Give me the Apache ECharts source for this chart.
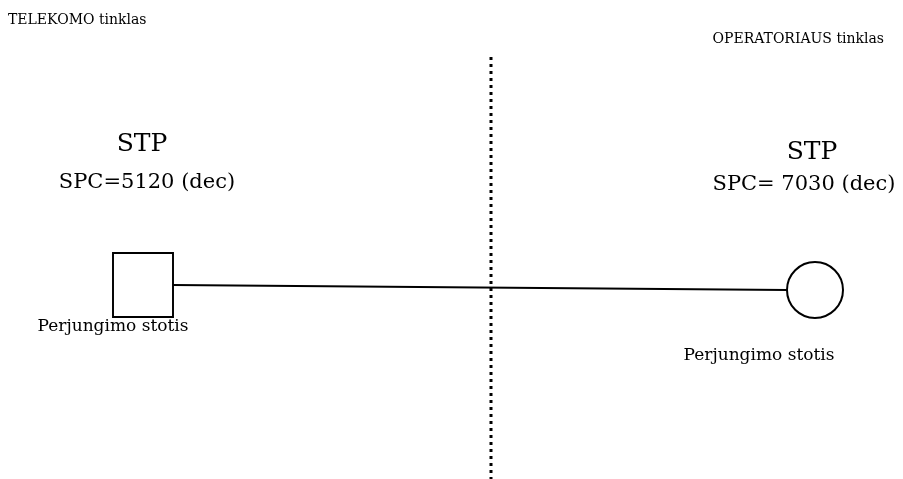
<!DOCTYPE html>
<html>
<head>
<meta charset="utf-8">
<script src="https://cdn.jsdelivr.net/npm/echarts@6/dist/echarts.min.js"></script>
<style>
  html, body { margin: 0; padding: 0; background: #fff; }
  #chart { width: 903px; height: 479px; }
</style>
</head>
<body>
<div id="chart"></div>
<script>
// tinklų pavadinimai ir mazgų tekstai
const networkNames = ['TELEKOMO tinklas', 'OPERATORIAUS tinklas'];
const stpNames = ['STP', 'STP'];
const spcNames = ['SPC=5120 (dec)', 'SPC= 7030 (dec)'];
const stationNames = ['Perjungimo stotis', 'Perjungimo stotis'];

// schemos koordinatės (ašies vienetais, 0..903 x 0..479)
const networkX = [8, 884];
const networkY = [20, 39];
const stpX = [142, 812];
const stpY = [144, 152];
const spcX = [147, 804];
const spcY = [183, 185];
const stationX = [113, 759];
const stationY = [327, 356];
const nodeX = [143, 815];
const nodeY = [285, 290];
const linkX = [173, 787];
const linkY = [285, 290];
const dividerX = [491, 491];
const dividerY = [57, 479];

const font = 'DejaVu Serif';

function textSeries(names, xs, ys, size, align) {
  return {
    type: 'scatter',
    symbolSize: 0,
    silent: true,
    itemStyle: { opacity: 1 },
    data: names.map((n, i) => ({ name: n, value: [xs[i], ys[i]] })),
    label: {
      show: true,
      position: 'inside',
      formatter: p => p.name,
      fontFamily: font,
      fontSize: size,
      color: '#000',
      opacity: 1,
      align: align || 'center',
      verticalAlign: 'middle'
    }
  };
}

const chart = echarts.init(document.getElementById('chart'));
const option = {
  animation: false,
  grid: { left: 0, right: 0, top: 0, bottom: 0 },
  xAxis: { type: 'value', min: 0, max: 903, show: false },
  yAxis: { type: 'value', min: 0, max: 479, inverse: true, show: false },
  series: [
    {
      // taškinė skiriamoji linija
      type: 'line',
      symbol: 'none',
      silent: true,
      data: dividerX.map((x, i) => [x, dividerY[i]]),
      lineStyle: { color: '#000', width: 3, type: [3, 4] }
    },
    {
      // ryšio linija
      type: 'line',
      symbol: 'none',
      silent: true,
      data: linkX.map((x, i) => [x, linkY[i]]),
      lineStyle: { color: '#000', width: 2 }
    },
    {
      type: 'scatter',
      symbol: 'rect',
      symbolSize: [60, 64],
      silent: true,
      data: [[nodeX[0], nodeY[0]]],
      itemStyle: { color: '#fff', borderColor: '#000', borderWidth: 2, opacity: 1 }
    },
    {
      type: 'scatter',
      symbol: 'circle',
      symbolSize: 56,
      silent: true,
      data: [[nodeX[1], nodeY[1]]],
      itemStyle: { color: '#fff', borderColor: '#000', borderWidth: 2, opacity: 1 }
    },
    textSeries([networkNames[0]], [networkX[0]], [networkY[0]], 14, 'left'),
    textSeries([networkNames[1]], [networkX[1]], [networkY[1]], 14, 'right'),
    textSeries(stpNames, stpX, stpY, 25),
    textSeries(spcNames, spcX, spcY, 21),
    textSeries(stationNames, stationX, stationY, 17)
  ]
};
chart.setOption(option);
</script>
</body>
</html>
